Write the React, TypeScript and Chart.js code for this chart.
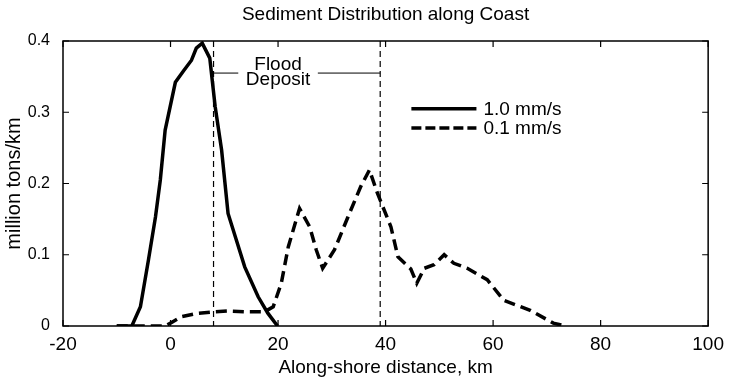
import React, { useEffect, useRef } from "react";
import { Chart, registerables } from "chart.js";

Chart.register(...registerables);

const TITLE = "Sediment Distribution along Coast";
const X_TITLE = "Along-shore distance, km";
const Y_TITLE = "million tons/km";
const X_TICKS = [-20, 0, 20, 40, 60, 80, 100];
const Y_TICKS = [0, 0.1, 0.2, 0.3, 0.4];

const SERIES_FAST_LABEL = "1.0 mm/s";
const SERIES_SLOW_LABEL = "0.1 mm/s";

const fastX = [-10, -7.2, -5.6, -4.1, -2.8, -1.9, -1.0, 0.9, 2.4, 3.9, 4.8, 5.9, 7.3, 8.3, 9.5, 10.7, 13.8, 16.3, 18.1, 19.9];
const fastY = [0, 0, 0.027, 0.093, 0.153, 0.205, 0.275, 0.342, 0.358, 0.373, 0.39, 0.397, 0.376, 0.308, 0.247, 0.158, 0.083, 0.041, 0.018, 0];

const slowX = [-10, -1, 0.2, 2.0, 5.2, 8.3, 10.7, 13.8, 17.5, 19.1, 20.6, 21.9, 24.0, 25.9, 27.1, 28.3, 30.5, 33.0, 35.4, 37.0, 38.5, 41.0, 42.3, 44.7, 45.8, 47.2, 49.0, 50.9, 52.7, 55.2, 58.9, 62.0, 66.9, 71.2, 73.5];
const slowY = [0, 0, 0.005, 0.013, 0.018, 0.02, 0.021, 0.02, 0.02, 0.027, 0.06, 0.111, 0.165, 0.139, 0.107, 0.081, 0.107, 0.153, 0.196, 0.219, 0.186, 0.139, 0.097, 0.08, 0.06, 0.081, 0.086, 0.1, 0.088, 0.081, 0.065, 0.036, 0.022, 0.004, 0];

// flood deposit boundaries (km)
const floodBounds = [8.0, 39.0];
const FLOOD_LABEL = ["Flood", "Deposit"];

const FONT = "'Liberation Sans', Arial, Helvetica, sans-serif";

export default function App() {
  const ref = useRef<HTMLCanvasElement | null>(null);

  useEffect(() => {
    const canvas = ref.current;
    if (!canvas) return;

    const decor = {
      id: "decor",
      afterDatasetsDraw(chart: any) {
        const ctx = chart.ctx;
        const a = chart.chartArea;
        const xs = chart.scales.x;
        const ys = chart.scales.y;
        ctx.save();
        ctx.strokeStyle = "#000";
        ctx.fillStyle = "#000";

        // flood deposit boundary lines
        ctx.lineWidth = 1.2;
        ctx.setLineDash([6, 4]);
        floodBounds.forEach((b) => {
          const px = xs.getPixelForValue(b);
          ctx.beginPath();
          ctx.moveTo(px, a.top);
          ctx.lineTo(px, a.bottom);
          ctx.stroke();
        });
        ctx.setLineDash([]);

        // flood deposit label
        const ly = ys.getPixelForValue(0.355);
        ctx.lineWidth = 1;
        ctx.beginPath();
        ctx.moveTo(xs.getPixelForValue(floodBounds[0]), ly);
        ctx.lineTo(xs.getPixelForValue(12.6), ly);
        ctx.moveTo(xs.getPixelForValue(27.4), ly);
        ctx.lineTo(xs.getPixelForValue(floodBounds[1]), ly);
        ctx.stroke();
        ctx.font = `19px ${FONT}`;
        ctx.textAlign = "center";
        ctx.textBaseline = "middle";
        const cx = xs.getPixelForValue(20);
        ctx.fillText(FLOOD_LABEL[0], cx, ys.getPixelForValue(0.366));
        ctx.fillText(FLOOD_LABEL[1], cx, ys.getPixelForValue(0.345));

        // legend
        const lx0 = xs.getPixelForValue(44.8);
        const lx1 = xs.getPixelForValue(56.9);
        const tx = xs.getPixelForValue(58.2);
        const y1 = ys.getPixelForValue(0.305);
        const y2 = ys.getPixelForValue(0.278);
        ctx.lineWidth = 3.5;
        ctx.beginPath();
        ctx.moveTo(lx0, y1);
        ctx.lineTo(lx1, y1);
        ctx.stroke();
        ctx.setLineDash([10, 4]);
        ctx.beginPath();
        ctx.moveTo(lx0, y2);
        ctx.lineTo(lx1, y2);
        ctx.stroke();
        ctx.setLineDash([]);
        ctx.textAlign = "left";
        ctx.fillText(SERIES_FAST_LABEL, tx, y1 + 1);
        ctx.fillText(SERIES_SLOW_LABEL, tx, y2 + 1);

        // frame
        ctx.lineWidth = 1.5;
        ctx.strokeRect(a.left, a.top, a.right - a.left, a.bottom - a.top);

        // inward ticks on all sides
        ctx.lineWidth = 1.2;
        const tl = 6;
        X_TICKS.forEach((v) => {
          const px = xs.getPixelForValue(v);
          ctx.beginPath();
          ctx.moveTo(px, a.bottom);
          ctx.lineTo(px, a.bottom - tl);
          ctx.moveTo(px, a.top);
          ctx.lineTo(px, a.top + tl);
          ctx.stroke();
        });
        Y_TICKS.forEach((v) => {
          const py = ys.getPixelForValue(v);
          ctx.beginPath();
          ctx.moveTo(a.left, py);
          ctx.lineTo(a.left + tl, py);
          ctx.moveTo(a.right, py);
          ctx.lineTo(a.right - tl, py);
          ctx.stroke();
        });

        // title centred over plot area
        ctx.font = `19px ${FONT}`;
        ctx.textAlign = "center";
        ctx.textBaseline = "middle";
        ctx.fillText(TITLE, (a.left + a.right) / 2, 15);
        ctx.restore();
      },
    };

    const chart = new Chart(canvas, {
      type: "scatter",
      data: {
        datasets: [
          {
            label: SERIES_FAST_LABEL,
            data: fastX.map((x, i) => ({ x, y: fastY[i] })),
            showLine: true,
            borderColor: "#000",
            backgroundColor: "#000",
            borderWidth: 3.5,
            pointRadius: 0,
            tension: 0,
            borderJoinStyle: "miter",
          },
          {
            label: SERIES_SLOW_LABEL,
            data: slowX.map((x, i) => ({ x, y: slowY[i] })),
            showLine: true,
            borderColor: "#000",
            backgroundColor: "#000",
            borderWidth: 3.5,
            borderDash: [11, 6],
            pointRadius: 0,
            tension: 0,
          },
        ],
      },
      options: {
        responsive: false,
        animation: false,
        devicePixelRatio: 1,
        layout: { padding: { top: 41, right: 18, left: 0, bottom: 0 } },
        plugins: {
          legend: { display: false },
          tooltip: { enabled: false },
          title: { display: false },
        },
        scales: {
          x: {
            type: "linear",
            min: -20,
            max: 100,
            afterBuildTicks: (s: any) => {
              s.ticks = X_TICKS.map((v) => ({ value: v }));
            },
            ticks: {
              color: "#000",
              font: { family: FONT, size: 19 },
              padding: 7,
              maxRotation: 0,
              callback: (v: any) => String(v),
            },
            grid: { display: false, drawTicks: false },
            border: { display: false },
            title: {
              display: true,
              text: X_TITLE,
              color: "#000",
              font: { family: FONT, size: 19 },
              padding: { top: 2, bottom: 2 },
            },
            afterFit: (s: any) => {
              s.height = 55;
            },
          },
          y: {
            type: "linear",
            min: 0,
            max: 0.4,
            afterBuildTicks: (s: any) => {
              s.ticks = Y_TICKS.map((v) => ({ value: v }));
            },
            ticks: {
              color: "#000",
              font: { family: FONT, size: 16 },
              padding: 13,
              callback: (v: any) => String(+Number(v).toFixed(1)),
            },
            grid: { display: false, drawTicks: false },
            border: { display: false },
            title: {
              display: true,
              text: Y_TITLE,
              color: "#000",
              font: { family: FONT, size: 20 },
              padding: { top: 2, bottom: 2 },
            },
            afterFit: (s: any) => {
              s.width = 63;
            },
          },
        },
      },
      plugins: [decor],
    } as any);

    return () => chart.destroy();
  }, []);

  return (
    <div style={{ position: "fixed", left: 0, top: 0, width: 731, height: 381, background: "#fff" }}>
      <canvas ref={ref} width={731} height={381} style={{ display: "block", width: 731, height: 381 }} />
    </div>
  );
}
